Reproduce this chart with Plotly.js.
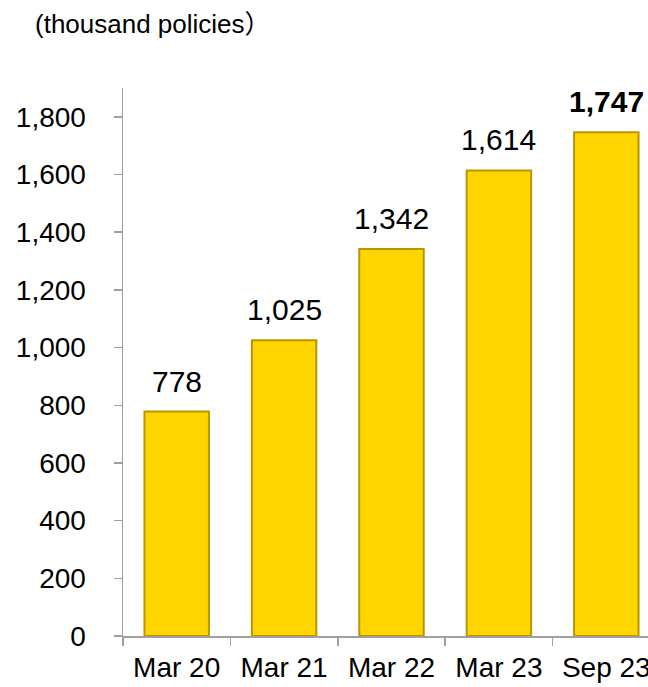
<!DOCTYPE html>
<html>
<head>
<meta charset="utf-8">
<script src="https://cdn.plot.ly/plotly-3.0.1.min.js"></script>
<style>
html,body{margin:0;padding:0;overflow:hidden;background:#fff;}
#chart{width:680px;height:687px;}
</style>
</head>
<body>
<div id="chart"></div>
<script>
const categories = ["Mar 20", "Mar 21", "Mar 22", "Mar 23", "Sep 23"];
const policies = [778, 1025, 1342, 1614, 1747];
const valueLabels = ["778", "1,025", "1,342", "1,614", "<b>1,747</b>"];
const yTickValues = [0, 200, 400, 600, 800, 1000, 1200, 1400, 1600, 1800];
const yTickLabels = ["0", "200", "400", "600", "800", "1,000", "1,200", "1,400", "1,600", "1,800"];

const FONT = "Liberation Sans, Arial, 'Noto Sans CJK JP', sans-serif";
const W = 680, H = 687;

const trace = {
  type: "bar",
  x: categories,
  y: policies,
  width: 0.6,
  marker: {
    color: "#FFD500",
    line: {color: "#B89600", width: 2}
  },
  hoverinfo: "none"
};

const annotations = categories.map((c, i) => ({
  x: c, y: policies[i], xref: "x", yref: "y",
  text: valueLabels[i], showarrow: false,
  xanchor: "center", yanchor: "bottom", yshift: 12,
  font: {family: FONT, size: 30, color: "#000"}
}));

const layout = {
  width: W, height: H,
  margin: {l: 123, r: 20, t: 88, b: 51, pad: 0},
  paper_bgcolor: "#fff", plot_bgcolor: "#fff",
  showlegend: false,
  bargap: 0.4,
  title: {
    text: "(thousand policies）",
    xref: "container", yref: "container",
    x: 35 / W, xanchor: "left",
    y: 1 - 24 / H, yanchor: "middle",
    font: {family: FONT, size: 26, color: "#000"}
  },
  xaxis: {
    type: "category",
    showline: true, linecolor: "#A0A0A0", linewidth: 1.5,
    ticks: "outside", tickson: "boundaries", ticklen: 8, tickcolor: "#A0A0A0", tickwidth: 1.5,
    ticklabelstandoff: 6,
    showgrid: false, zeroline: false,
    tickfont: {family: FONT, size: 28, color: "#000"}
  },
  yaxis: {
    range: [0, 1900],
    showline: true, linecolor: "#A0A0A0", linewidth: 1.5,
    ticks: "outside", ticklen: 8, tickcolor: "#A0A0A0", tickwidth: 1.5,
    tickvals: yTickValues, ticktext: yTickLabels,
    ticklabelstandoff: 22,
    showgrid: false, zeroline: false,
    tickfont: {family: FONT, size: 28, color: "#000"}
  },
  annotations: annotations
};

Plotly.newPlot("chart", [trace], layout, {displayModeBar: false, staticPlot: true});
</script>
</body>
</html>
